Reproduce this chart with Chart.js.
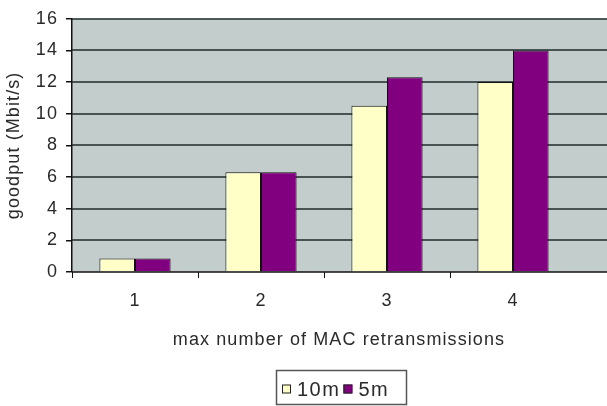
<!DOCTYPE html>
<html>
<head>
<meta charset="utf-8">
<script src="https://cdn.jsdelivr.net/npm/chart.js@4/dist/chart.umd.min.js"></script>
<style>
  html, body { margin: 0; padding: 0; background: #ffffff; overflow: hidden; }
  #wrap { width: 607px; height: 406px; }
</style>
</head>
<body>
<div id="wrap"><canvas id="chart" width="607" height="406"></canvas></div>
<script>
// Goodput versus the retransmission limit, for two distances
const categories = ['1', '2', '3', '4'];
const goodput10m = [0.85, 6.3, 10.5, 12.0];
const goodput5m = [0.85, 6.3, 12.3, 14.0];
const seriesNames = ['10m', '5m'];
const yTicks = [0, 2, 4, 6, 8, 10, 12, 14, 16];
const xTitle = 'max number of MAC retransmissions';
const yTitle = 'goodput (Mbit/s)';

const FONT = "'Liberation Sans', Arial, sans-serif";
const FONT_SIZE = 18;
const SPACING = '1.1px';
const TEXT = '#2a2a2a';
const PLOT_BG = '#c3cdcb';
const GRID = '#1f2b2b';

// Slightly widened lettering for every label on the canvas
const wideText = {
  id: 'wideText',
  beforeInit(chart) { chart.ctx.letterSpacing = SPACING; },
  beforeDraw(chart) { chart.ctx.letterSpacing = SPACING; }
};

// Plot background and horizontal grid, running on past the last category
const plotGrid = {
  id: 'plotGrid',
  beforeDraw(chart) {
    const { ctx, chartArea } = chart;
    ctx.save();
    ctx.fillStyle = PLOT_BG;
    ctx.fillRect(chartArea.left, chartArea.top, chart.width - chartArea.left, chartArea.bottom - chartArea.top);
    ctx.restore();
  },
  beforeDatasetsDraw(chart) {
    const { ctx, chartArea, scales } = chart;
    const y = scales.y;
    ctx.save();
    ctx.lineWidth = 1.5;
    yTicks.forEach(v => {
      const py = Math.round(y.getPixelForValue(v));
      ctx.strokeStyle = v === 0 ? '#111111' : GRID;
      ctx.beginPath();
      ctx.moveTo(chartArea.left, py);
      ctx.lineTo(chart.width, py);
      ctx.stroke();
    });
    ctx.restore();
  }
};

// Category axis title, centred under the labelled categories
const axisTitle = {
  id: 'axisTitle',
  afterDraw(chart) {
    const { ctx } = chart;
    ctx.save();
    ctx.letterSpacing = SPACING;
    ctx.font = FONT_SIZE + 'px ' + FONT;
    ctx.fillStyle = TEXT;
    ctx.textAlign = 'center';
    ctx.textBaseline = 'alphabetic';
    ctx.fillText(xTitle, 339, 345);
    ctx.restore();
  }
};

// Boxed legend under the axis title
const boxedLegend = {
  id: 'boxedLegend',
  afterDraw(chart) {
    const { ctx } = chart;
    const x0 = 276, y0 = 370, w = 130, h = 34;
    ctx.save();
    ctx.fillStyle = '#ffffff';
    ctx.fillRect(x0, y0, w, h);
    ctx.strokeStyle = '#555555';
    ctx.lineWidth = 1.5;
    ctx.strokeRect(x0 + 0.5, y0 + 0.5, w, h);
    ctx.letterSpacing = '1.5px';
    ctx.font = '20px ' + FONT;
    ctx.textBaseline = 'middle';
    const cy = 389;
    let x = x0 + 6;
    chart.data.datasets.forEach(ds => {
      ctx.fillStyle = ds.backgroundColor;
      ctx.fillRect(x, cy - 4.5, 9, 9);
      ctx.strokeStyle = '#222';
      ctx.lineWidth = 1;
      ctx.strokeRect(x + 0.5, cy - 4, 8, 8);
      x += 15;
      ctx.fillStyle = TEXT;
      ctx.fillText(ds.label, x, cy + 1);
      x += ctx.measureText(ds.label).width + 3;
    });
    ctx.restore();
  }
};

new Chart(document.getElementById('chart'), {
  type: 'bar',
  data: {
    labels: categories,
    datasets: [
      {
        label: seriesNames[0],
        data: goodput10m,
        backgroundColor: '#ffffc8',
        borderColor: '#111111',
        borderWidth: 1
      },
      {
        label: seriesNames[1],
        data: goodput5m,
        backgroundColor: '#800080',
        borderColor: '#111111',
        borderWidth: 1
      }
    ]
  },
  options: {
    responsive: false,
    animation: false,
    devicePixelRatio: 1,
    layout: { padding: { left: 0, right: 31, top: 17, bottom: 50 } },
    plugins: {
      legend: { display: false },
      tooltip: { enabled: false }
    },
    datasets: {
      bar: { categoryPercentage: 0.565, barPercentage: 1.0 }
    },
    scales: {
      x: {
        grid: {
          drawOnChartArea: false,
          drawTicks: true,
          tickLength: 6,
          tickColor: ctx => (ctx.type === 'tick' ? '#111111' : 'rgba(0,0,0,0)'),
          color: '#111111',
          lineWidth: 1
        },
        border: { display: false },
        ticks: {
          color: TEXT,
          font: { family: FONT, size: FONT_SIZE },
          padding: 12
        },
        title: { display: false },
        afterFit(scale) { scale.height = 84; }
      },
      y: {
        min: 0,
        max: 16,
        afterBuildTicks(scale) { scale.ticks = yTicks.map(v => ({ value: v })); },
        grid: {
          drawOnChartArea: false,
          drawTicks: true,
          color: '#111111',
          lineWidth: 1.5,
          tickLength: 6
        },
        border: { display: true, color: '#111111', width: 1.5 },
        ticks: {
          color: TEXT,
          font: { family: FONT, size: FONT_SIZE },
          padding: 8
        },
        title: {
          display: true,
          text: yTitle,
          color: TEXT,
          font: { family: FONT, size: FONT_SIZE },
          padding: { top: 3, bottom: 0 }
        },
        afterFit(scale) { scale.width = 72; }
      }
    }
  },
  plugins: [wideText, plotGrid, axisTitle, boxedLegend]
});
</script>
</body>
</html>
